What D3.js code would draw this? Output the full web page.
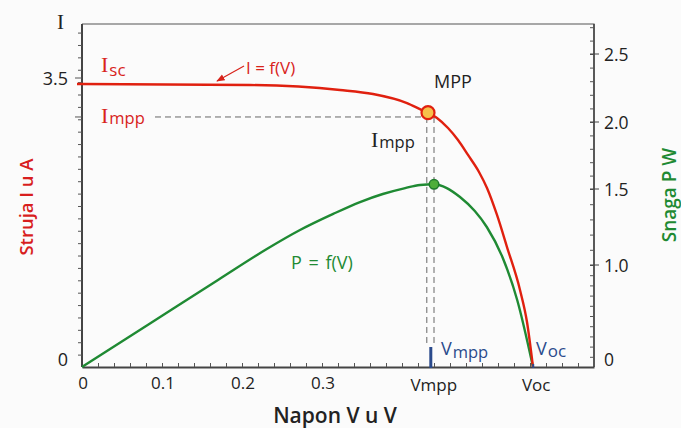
<!DOCTYPE html>
<html>
<head>
<meta charset="utf-8">
<script src="https://cdn.jsdelivr.net/npm/d3@7"></script>
<style>
  body { margin: 0; background: #fbfbfb; }
  svg { display: block; }
</style>
</head>
<body>
<svg id="chart" width="681" height="428"></svg>
<script>
// I-V curve (napon V, struja A)
const ivVolts = [-0.00625, 0, 0.21, 0.3225, 0.36375, 0.40625, 0.425, 0.4325, 0.44375, 0.4575, 0.47, 0.4825, 0.49625, 0.50625, 0.51875, 0.53125, 0.5475, 0.55625, 0.56375];
const ivAmps  = [3.427, 3.427, 3.415, 3.355, 3.306, 3.197, 3.112, 3.080, 3.016, 2.894, 2.749, 2.568, 2.362, 2.168, 1.841, 1.453, 0.933, 0.545, 0];

// P-V curve (napon V, snaga W)
const pvVolts = [0, 0.085, 0.17, 0.231, 0.2725, 0.314, 0.3475, 0.376, 0.404, 0.4225, 0.44, 0.456, 0.4725, 0.491, 0.506, 0.526, 0.544, 0.56375];
const pvWatts = [0, 0.426, 0.853, 1.105, 1.230, 1.336, 1.414, 1.467, 1.507, 1.530, 1.535, 1.507, 1.447, 1.355, 1.25, 1.046, 0.657, 0];

const vmpp = 0.436;
const voc = 0.564;
const impp = 3.028;
const mppPoint = {v: 0.4325, i: 3.080};
const pmaxPoint = {v: 0.44, p: 1.535};

const xTickLabels = [0, 0.1, 0.2, 0.3];
const leftTickLabels = [0, 3.5];
const rightTickLabels = [0, 1.0, 1.5, 2.0, 2.5];

const red = "#d8231b";
const lineRed = "#e0200f";
const green = "#1f8a33";
const blue = "#2a4a8c";
const sans = "'Open Sans', 'Noto Sans', sans-serif";
const serif = "'Liberation Serif', 'DejaVu Serif', serif";

const svg = d3.select("#chart");

const x = d3.scaleLinear().domain([0, 0.64]).range([82, 594]);
const yI = d3.scaleLinear().domain([0, 3.5]).range([367, 78]);
// right axis is hand drawn, not evenly spaced
const yP = d3.scaleLinear().domain([0, 1, 1.5, 2, 2.5, 2.75]).range([367, 265, 189, 122, 54, 20.5]);

const frameTop = 24;

// frame
svg.append("path")
    .attr("d", `M${x(0)},${frameTop}H${x.range()[1]}V${yI(0)}`)
    .attr("fill", "none")
    .attr("stroke", "#555")
    .attr("stroke-width", 1.2);

// bottom axis: minor ticks pointing up
const bottomTicks = d3.range(0, 0.64, 0.02);
const gx = svg.append("g")
    .attr("transform", `translate(0,${yI(0)})`)
    .call(d3.axisBottom(x).tickValues(bottomTicks).tickSize(-4).tickFormat("").tickSizeOuter(0));
gx.select(".domain").attr("stroke", "#444").attr("stroke-width", 2);
gx.selectAll(".tick line").attr("stroke", "#555");

svg.append("g")
    .selectAll("text")
    .data(xTickLabels)
    .join("text")
    .attr("x", d => x(d) + 1)
    .attr("y", 389)
    .attr("text-anchor", "middle")
    .style("font", `17px ${sans}`)
    .attr("fill", "#222")
    .text(d => d === 0 ? "0" : d3.format(".1f")(d));

svg.append("g")
    .selectAll("text")
    .data([{v: vmpp, t: "Vmpp"}, {v: voc, t: "Voc"}])
    .join("text")
    .attr("x", d => x(d.v) + 3)
    .attr("y", 391)
    .attr("text-anchor", "middle")
    .style("font", `17px ${sans}`)
    .attr("fill", "#222")
    .text(d => d.t);

// left axis
const leftTicks = d3.range(0, 4.1, 0.15);
const gl = svg.append("g")
    .attr("transform", `translate(${x(0)},0)`)
    .call(d3.axisLeft(yI).tickValues(leftTicks).tickSize(4).tickFormat("").tickSizeOuter(0));
gl.select(".domain").attr("d", `M0,${frameTop}V${yI(0)}`).attr("stroke", "#444").attr("stroke-width", 2);
gl.selectAll(".tick line").attr("stroke", "#555");
gl.selectAll(".tick").filter(d => d === 0).remove();
// longer marks at 3.5 and Impp
svg.append("g")
    .selectAll("line")
    .data([3.5, impp])
    .join("line")
    .attr("x1", x(0) - 7).attr("x2", x(0))
    .attr("y1", d => yI(d)).attr("y2", d => yI(d))
    .attr("stroke", "#555");

svg.append("g")
    .selectAll("text")
    .data(leftTickLabels)
    .join("text")
    .attr("x", 68)
    .attr("y", d => d === 0 ? yI(d) - 1 : yI(d) + 7)
    .attr("text-anchor", "end")
    .style("font", `18px ${sans}`)
    .attr("fill", "#222")
    .text(d => d);

// right axis
const rightTicks = d3.range(0.1, 2.75, 0.1);
const gr = svg.append("g")
    .attr("transform", `translate(${x.range()[1]},0)`)
    .call(d3.axisLeft(yP).tickValues(rightTicks).tickSize(4).tickFormat("").tickSizeOuter(0));
gr.select(".domain").attr("d", `M0,${frameTop}V${yI(0)}`).attr("stroke", "#444").attr("stroke-width", 1.5);
gr.selectAll(".tick line").attr("stroke", "#555");
svg.append("g")
    .selectAll("line")
    .data(rightTickLabels.filter(d => d > 0))
    .join("line")
    .attr("x1", x.range()[1] - 4).attr("x2", x.range()[1] + 5)
    .attr("y1", d => yP(d)).attr("y2", d => yP(d))
    .attr("stroke", "#444");

svg.append("g")
    .selectAll("text")
    .data(rightTickLabels)
    .join("text")
    .attr("x", 604)
    .attr("y", d => d === 0 ? yP(d) - 1 : yP(d) + 6.5)
    .style("font", `17.5px ${sans}`)
    .attr("fill", "#222")
    .text(d => d === 0 ? "0" : d3.format(".1f")(d));

// dashed guides to the MPP
const dashed = svg.append("g")
    .attr("stroke", "#666")
    .attr("stroke-width", 1)
    .attr("stroke-dasharray", "6,4")
    .attr("fill", "none");
dashed.append("line")
    .attr("x1", 155).attr("x2", x(mppPoint.v))
    .attr("y1", yI(impp)).attr("y2", yI(impp));
dashed.append("line")
    .attr("x1", x(0.431)).attr("x2", x(0.431))
    .attr("y1", yI(impp)).attr("y2", 345);
dashed.append("line")
    .attr("x1", x(pmaxPoint.v)).attr("x2", x(pmaxPoint.v))
    .attr("y1", yI(impp)).attr("y2", 345);

// curves
const ivData = ivVolts.map((v, k) => ({v: v, i: ivAmps[k]}));
const pvData = pvVolts.map((v, k) => ({v: v, p: pvWatts[k]}));

svg.append("path")
    .datum(pvData)
    .attr("fill", "none")
    .attr("stroke", green)
    .attr("stroke-width", 2.4)
    .attr("d", d3.line().x(d => x(d.v)).y(d => yP(d.p)).curve(d3.curveMonotoneX));

svg.append("path")
    .datum(ivData)
    .attr("fill", "none")
    .attr("stroke", lineRed)
    .attr("stroke-width", 2.4)
    .attr("d", d3.line().x(d => x(d.v)).y(d => yI(d.i)).curve(d3.curveMonotoneX));

// Vmpp / Voc markers
svg.append("line")
    .attr("x1", x(vmpp)).attr("x2", x(vmpp))
    .attr("y1", 347).attr("y2", yI(0) + 1)
    .attr("stroke", blue).attr("stroke-width", 3);
svg.append("line")
    .attr("x1", x(voc)).attr("x2", x(voc))
    .attr("y1", yI(0) - 3).attr("y2", yI(0) + 1)
    .attr("stroke", blue).attr("stroke-width", 2);

// points
svg.append("circle")
    .attr("cx", x(mppPoint.v)).attr("cy", yI(mppPoint.i))
    .attr("r", 6.5)
    .attr("fill", "#f7c04a")
    .attr("stroke", lineRed)
    .attr("stroke-width", 2.2);
svg.append("circle")
    .attr("cx", x(pmaxPoint.v)).attr("cy", yP(pmaxPoint.p))
    .attr("r", 4.8)
    .attr("fill", "#4fae3a")
    .attr("stroke", "#1f7a2c")
    .attr("stroke-width", 1.5);

// annotations
function subLabel(xPos, yPos, main, sub, color, mainFont, subSize, subDy) {
    const t = svg.append("text")
        .attr("x", xPos).attr("y", yPos)
        .attr("fill", color);
    t.append("tspan").style("font", mainFont).text(main);
    t.append("tspan").attr("dy", subDy).attr("dx", 1).style("font", `${subSize}px ${sans}`).text(sub);
    return t;
}

svg.append("text")
    .attr("x", 57).attr("y", 29)
    .style("font", `21px ${serif}`)
    .attr("fill", "#222")
    .text("I");

subLabel(101, 72, "I", "sc", red, `22px ${serif}`, 17, 4);
subLabel(101, 123, "I", "mpp", red, `22px ${serif}`, 16.5, 1);
subLabel(371, 147, "I", "mpp", "#222", `22px ${serif}`, 16.5, 1);
subLabel(441, 355, "V", "mpp", blue, `18px ${sans}`, 16.5, 3);
subLabel(536, 355, "V", "oc", blue, `18px ${sans}`, 17, 2);

svg.append("text")
    .attr("x", 246).attr("y", 74)
    .style("font", `17px ${sans}`)
    .attr("fill", red)
    .text("I = f(V)");

// arrow to the I-V curve
svg.append("defs").append("marker")
    .attr("id", "arrow")
    .attr("viewBox", "0 0 10 10")
    .attr("refX", 9).attr("refY", 5)
    .attr("markerWidth", 7).attr("markerHeight", 7)
    .attr("orient", "auto")
    .append("path")
    .attr("d", "M0,1L10,5L0,9z")
    .attr("fill", red);
svg.append("line")
    .attr("x1", 244).attr("y1", 66)
    .attr("x2", 217).attr("y2", 81)
    .attr("stroke", red).attr("stroke-width", 1.2)
    .attr("marker-end", "url(#arrow)");

svg.append("text")
    .attr("x", 434).attr("y", 88)
    .style("font", `500 18px ${sans}`)
    .attr("fill", "#222")
    .text("MPP");

svg.append("text")
    .attr("x", 291).attr("y", 269)
    .style("font", `18px ${sans}`)
    .style("word-spacing", "2px")
    .attr("fill", green)
    .text("P = f(V)");

// axis titles
svg.append("text")
    .attr("x", 335).attr("y", 423)
    .attr("text-anchor", "middle")
    .style("font", `600 21px ${sans}`)
    .attr("fill", "#222")
    .text("Napon V u V");

svg.append("text")
    .attr("transform", "translate(33,207) rotate(-90)")
    .attr("text-anchor", "middle")
    .style("font", `600 18.5px ${sans}`)
    .attr("fill", "#d81e1e")
    .text("Struja I u A");

svg.append("text")
    .attr("transform", "translate(676,195) rotate(-90)")
    .attr("text-anchor", "middle")
    .style("font", `600 19px ${sans}`)
    .attr("fill", green)
    .text("Snaga P W");
</script>
</body>
</html>
